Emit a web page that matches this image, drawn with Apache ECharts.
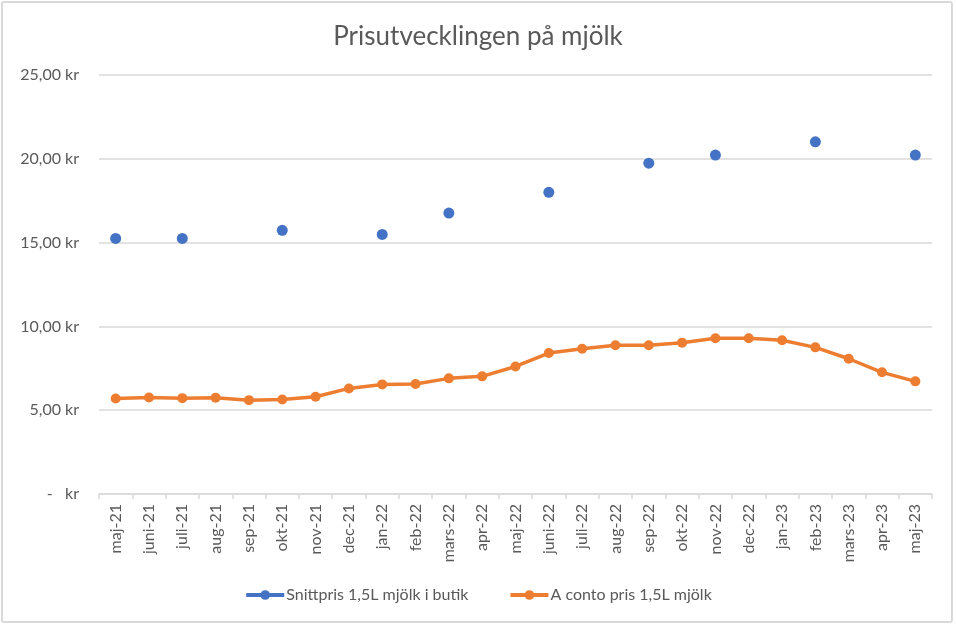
<!DOCTYPE html>
<html>
<head>
<meta charset="utf-8">
<script src="https://cdn.jsdelivr.net/npm/echarts@6/dist/echarts.min.js"></script>
<style>
html,body{margin:0;padding:0;background:#fff;}
#frame{position:absolute;left:1px;top:1px;width:952px;height:622px;border:2px solid #d9d9d9;border-radius:3px;box-sizing:border-box;}
#chart{position:absolute;left:0;top:0;width:956px;height:626px;}
</style>
</head>
<body>
<div id="frame"></div>
<div id="chart"></div>
<script>
var categories = ["maj-21","juni-21","juli-21","aug-21","sep-21","okt-21","nov-21","dec-21","jan-22","feb-22","mars-22","apr-22","maj-22","juni-22","juli-22","aug-22","sep-22","okt-22","nov-22","dec-22","jan-23","feb-23","mars-23","apr-23","maj-23"];
var butikPris = [15.25,null,15.25,null,null,15.73,null,null,15.49,null,16.76,null,null,18.0,null,null,19.74,null,20.22,null,null,21.01,null,null,20.22];
var acontoPris = [5.70,5.76,5.72,5.74,5.60,5.64,5.80,6.30,6.54,6.56,6.90,7.02,7.61,8.41,8.67,8.87,8.87,9.03,9.29,9.29,9.17,8.75,8.07,7.26,6.72];
var seriesNames = ["Snittpris 1,5L mjölk i butik","A conto pris 1,5L mjölk"];
var titleText = "Prisutvecklingen på mjölk";

var font = "Lato, 'Open Sans', sans-serif";
var chart = echarts.init(document.getElementById('chart'), null, {renderer:'canvas'});
chart.setOption({
  animation:false,
  backgroundColor:'transparent',
  title:{text:titleText,left:'center',top:19,textStyle:{fontFamily:font,fontSize:26,fontWeight:'normal',color:'#595959'}},
  grid:{left:99,right:24,top:75,bottom:132},
  legend:{
    bottom:18,left:'center',itemGap:40,itemWidth:38,itemHeight:12,
    lineStyle:{width:4},
    textStyle:{fontFamily:font,fontSize:16,color:'#595959',padding:[0,0,0,-3]},
    data:seriesNames
  },
  xAxis:{
    type:'category',data:categories,boundaryGap:true,
    axisLine:{lineStyle:{color:'#d9d9d9',width:1.5}},
    axisTick:{show:true,length:5,lineStyle:{color:'#d9d9d9',width:1.5}},
    axisLabel:{rotate:90,margin:10,interval:0,fontFamily:font,fontSize:16,color:'#595959'}
  },
  yAxis:{
    type:'value',min:0,max:25,interval:5,
    axisLine:{show:false},axisTick:{show:false},
    splitLine:{lineStyle:{color:'#d9d9d9',width:1.5}},
    axisLabel:{margin:20,fontFamily:font,fontSize:16,color:'#595959',
      formatter:function(v){return v===0?'-   kr':v.toFixed(2).replace('.',',')+' kr';}}
  },
  series:[
    {name:seriesNames[0],type:'line',data:butikPris,connectNulls:false,
     symbol:'circle',symbolSize:11,showAllSymbol:true,
     itemStyle:{color:'#4472C4'},lineStyle:{color:'#4472C4',width:3.5}},
    {name:seriesNames[1],type:'line',data:acontoPris,
     symbol:'circle',symbolSize:10,showAllSymbol:true,
     itemStyle:{color:'#ED7D31'},lineStyle:{color:'#ED7D31',width:3.5}}
  ]
});
</script>
</body>
</html>
